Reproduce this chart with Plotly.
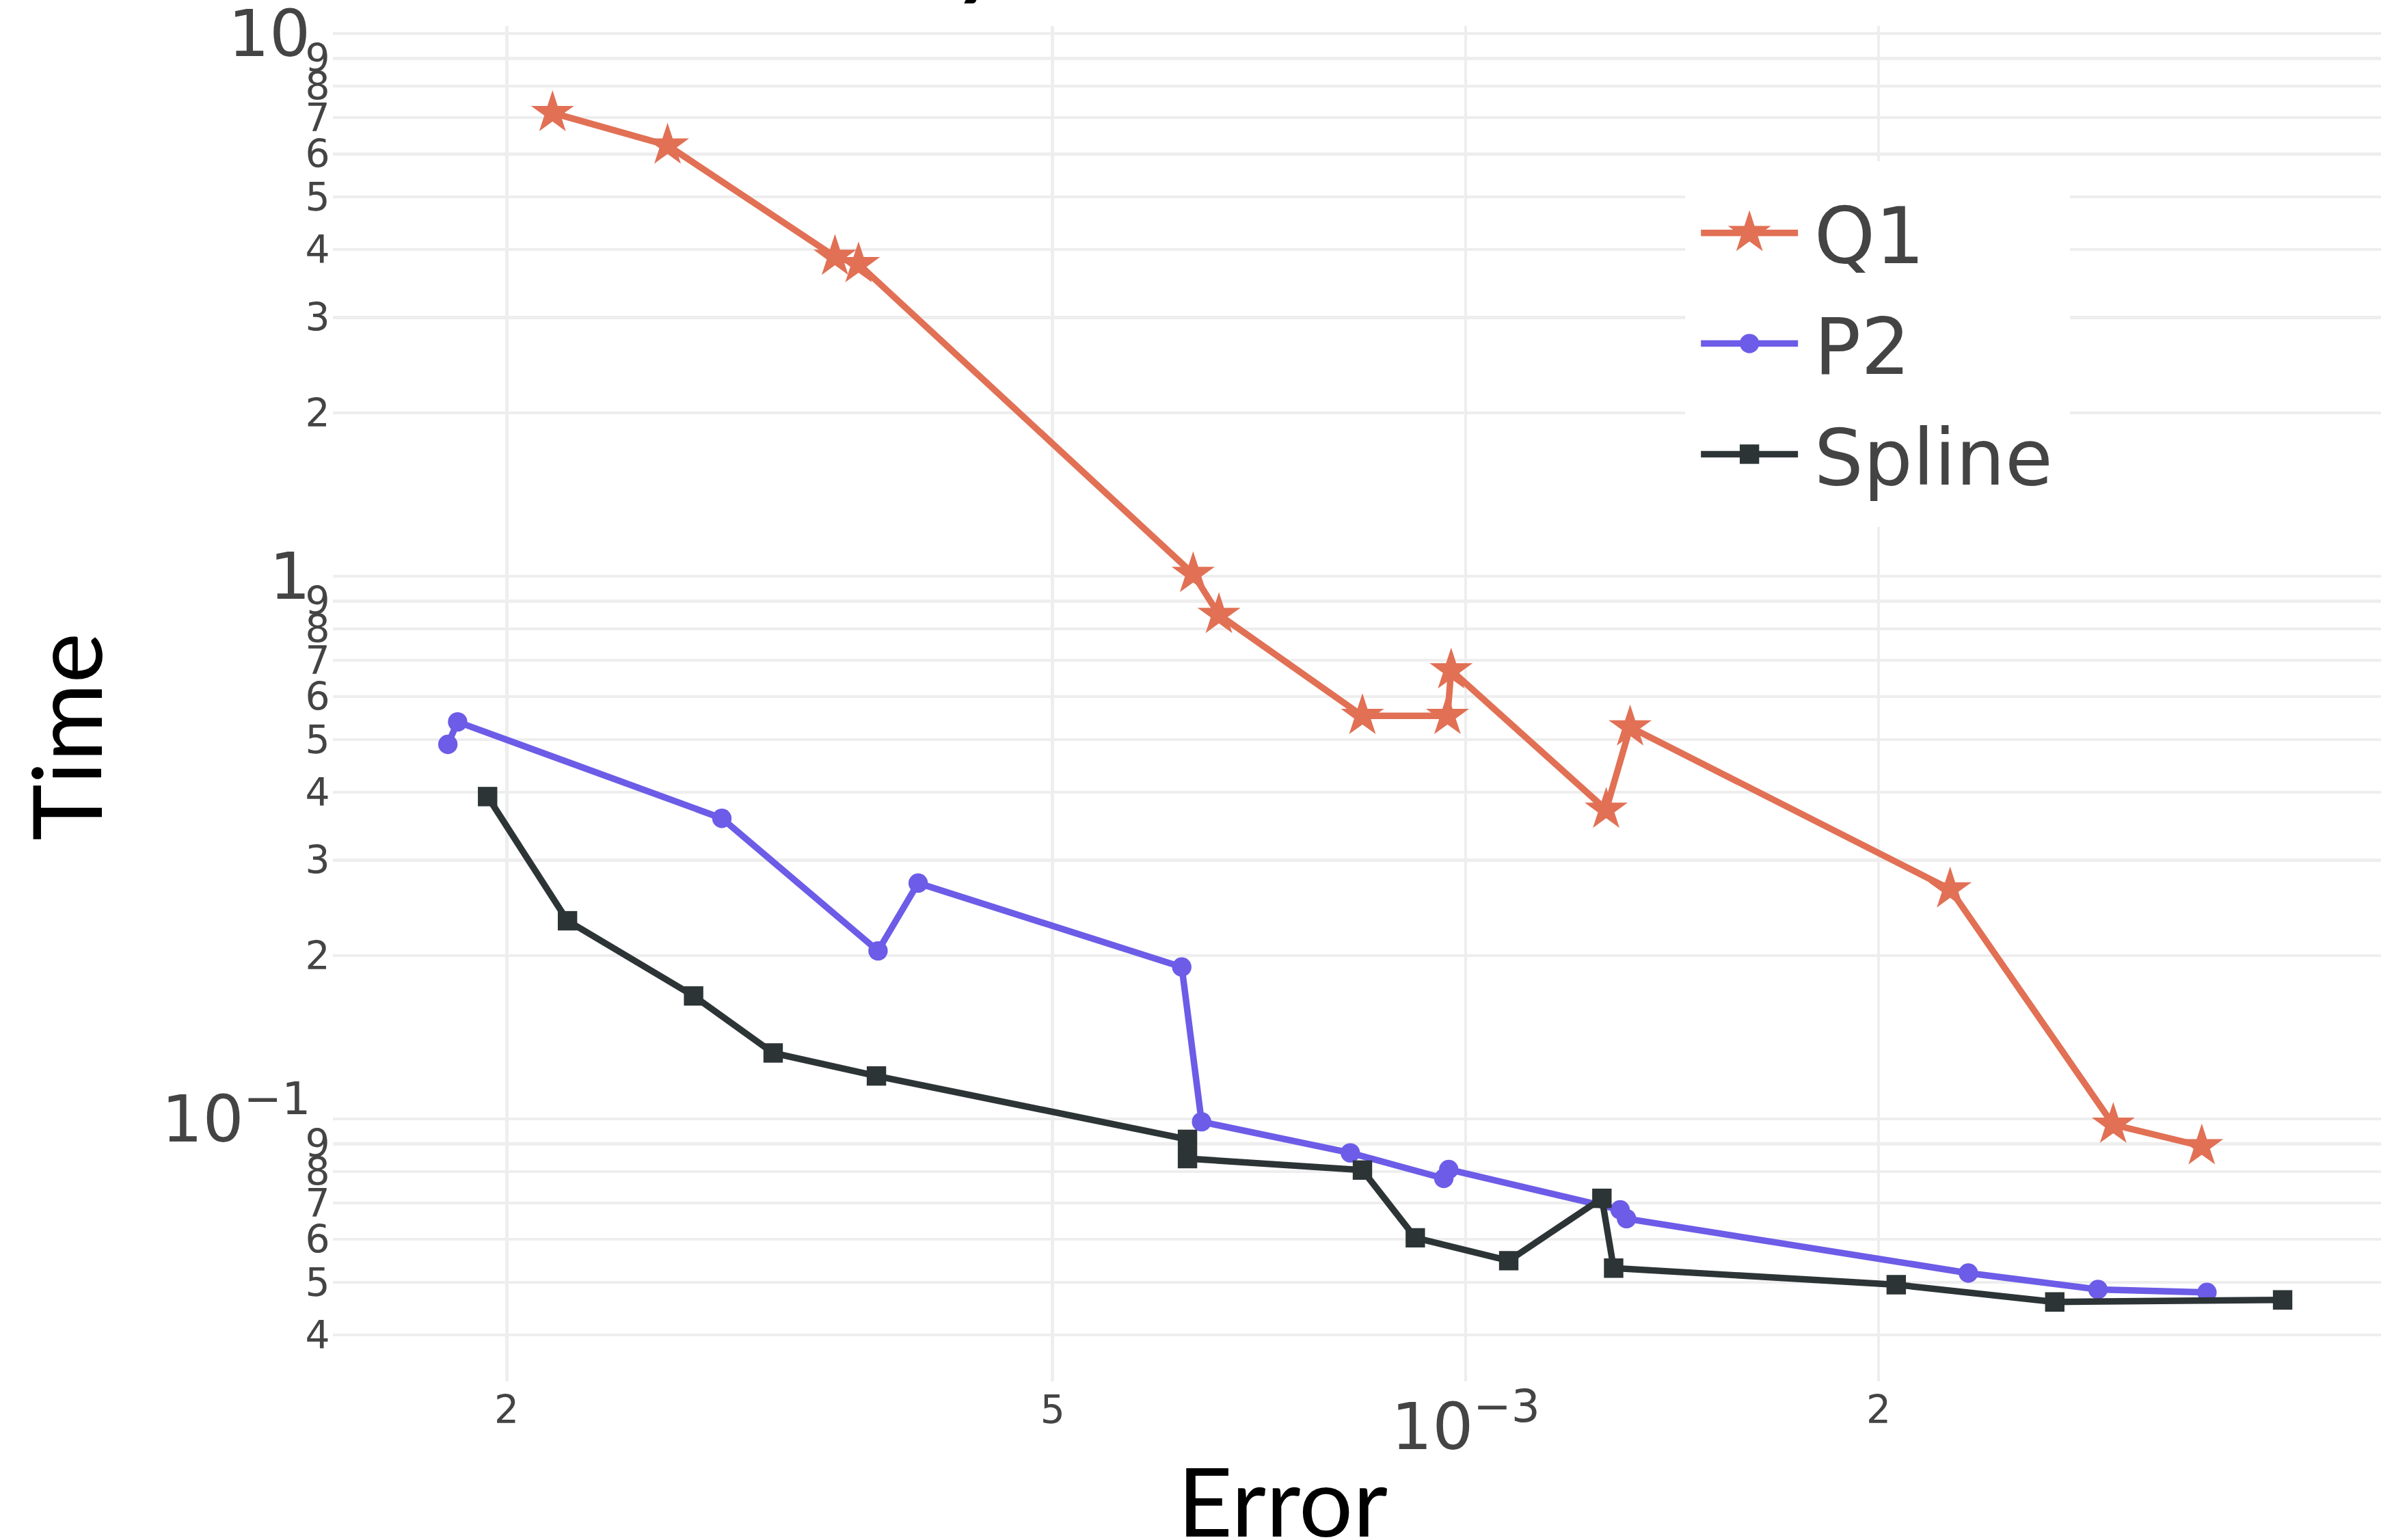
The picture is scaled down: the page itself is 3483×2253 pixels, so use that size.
import plotly.graph_objects as go

# ---------------- data ----------------
q1_error = [2.16e-4, 2.62e-4, 3.47e-4, 3.61e-4, 6.33e-4, 6.61e-4, 8.41e-4,
            9.70e-4, 9.76e-4, 1.266e-3, 1.318e-3, 2.255e-3, 2.965e-3, 3.44e-3]
q1_time = [7.14, 6.22, 3.88, 3.76, 1.01, 0.849, 0.553,
           0.553, 0.671, 0.3715, 0.527, 0.265, 0.0976, 0.0891]

p2_error = [1.812e-4, 1.842e-4, 2.87e-4, 3.73e-4, 3.99e-4, 6.21e-4, 6.42e-4,
            8.24e-4, 9.64e-4, 9.72e-4, 1.296e-3, 1.31e-3, 2.325e-3, 2.89e-3, 3.47e-3]
p2_time = [0.490, 0.539, 0.358, 0.204, 0.272, 0.1905, 0.0988,
           0.0866, 0.0777, 0.0807, 0.068, 0.0655, 0.0520, 0.0485, 0.0479]

spline_error = [1.937e-4, 2.215e-4, 2.737e-4, 3.128e-4, 3.72e-4, 6.27e-4, 6.27e-4,
                8.41e-4, 9.19e-4, 1.075e-3, 1.257e-3, 1.282e-3, 2.06e-3, 2.688e-3, 3.94e-3]
spline_time = [0.3926, 0.2318, 0.1685, 0.1323, 0.120, 0.0917, 0.0845,
               0.0805, 0.0604, 0.0548, 0.0714, 0.0531, 0.0495, 0.0460, 0.0464]

series_names = ["Q1", "P2", "Spline"]
series_colors = ["#E17055", "#6C5CE7", "#2D3436"]
series_symbols = ["star", "circle", "square"]

# y-axis ticks (log axis): minor digit ticks and decade ticks
y_minor_vals = [0.04, 0.05, 0.06, 0.07, 0.08, 0.09,
                0.2, 0.3, 0.4, 0.5, 0.6, 0.7, 0.8, 0.9,
                2, 3, 4, 5, 6, 7, 8, 9]
y_minor_text = ["4", "5", "6", "7", "8", "9",
                "2", "3", "4", "5", "6", "7", "8", "9",
                "2", "3", "4", "5", "6", "7", "8", "9"]
y_major_vals = [0.1, 1, 10]
y_major_text = ["10<sup>\u22121</sup>", "1", "10"]

title_text = "Efficiency"
x_title = "Error"
y_title = "Time"

# ---------------- figure ----------------
W, H = 736, 476
SCALE = 3483 / W

TICK_FONT = "DejaVu Sans, Verdana, sans-serif"
TITLE_FONT = "Lato, sans-serif"
GRID = "#eeeeee"
Y_RANGE = [-1.4833, 1.01403]

fig = go.Figure()
sizes = [10, 6, 6]
for name, xs, ys, col, sym, sz in zip(
        series_names,
        [q1_error, p2_error, spline_error],
        [q1_time, p2_time, spline_time],
        series_colors, series_symbols, sizes):
    fig.add_trace(go.Scatter(
        x=xs, y=ys, name=name, mode="lines+markers",
        line=dict(color=col, width=2),
        marker=dict(symbol=sym, size=sz, color=col),
    ))

# empty helper trace so that the decade-label axis (y2) is drawn
fig.add_trace(go.Scatter(x=[], y=[], yaxis="y2", showlegend=False,
                         hoverinfo="skip", mode="lines"))

fig.update_layout(
    template="none",
    width=W, height=H,
    margin=dict(l=103, r=0, t=8, b=49, pad=0),
    paper_bgcolor="white", plot_bgcolor="white",
    font=dict(family=TICK_FONT, size=16, color="#444"),
    title=dict(text=title_text, font=dict(family=TITLE_FONT, size=38, color="black"),
               xref="container", yref="container", x=0.425, xanchor="right",
               y=1, yanchor="bottom", pad=dict(b=5.6)),
    showlegend=True,
    legend=dict(x=0.66, y=0.9, xanchor="left", yanchor="top",
                bgcolor="white", borderwidth=0,
                font=dict(family=TICK_FONT, size=24, color="#444")),
    xaxis=dict(type="log", range=[-3.8254, -2.3328], dtick="D2",
               exponentformat="power", showgrid=True, gridcolor=GRID,
               gridwidth=1, zeroline=False, showline=False, ticks="",
               ticklabeloverflow="allow",
               tickfont=dict(family=TICK_FONT, size=16, color="#444")),
    yaxis=dict(type="log", range=Y_RANGE, tickmode="array",
               tickvals=y_minor_vals, ticktext=y_minor_text,
               showgrid=True, gridcolor=GRID, gridwidth=1,
               zeroline=False, showline=False, ticks="",
               ticklabeloverflow="allow",
               tickfont=dict(family=TICK_FONT, size=12, color="#444")),
    yaxis2=dict(type="log", range=Y_RANGE, overlaying="y", side="left",
                anchor="x", tickmode="array",
                tickvals=y_major_vals, ticktext=y_major_text,
                showgrid=True, gridcolor=GRID, gridwidth=1,
                zeroline=False, showline=False, ticks="",
                ticklabelstandoff=6, ticklabeloverflow="allow",
                tickfont=dict(family=TICK_FONT, size=20, color="#444")),
    annotations=[
        dict(text=x_title, xref="paper", yref="paper", x=0.4643, y=-0.0883,
             xanchor="center", yanchor="middle", showarrow=False,
             font=dict(family=TITLE_FONT, size=29.5, color="black")),
        dict(text=y_title, xref="paper", yref="paper", x=-0.1316, y=0.4745,
             xanchor="center", yanchor="middle", showarrow=False, textangle=-90,
             font=dict(family=TITLE_FONT, size=29.5, color="black")),
    ],
)

post = ("var gd=document.getElementById('{plot_id}');"
        "document.documentElement.style.margin='0';document.body.style.margin='0';"
        "document.documentElement.style.overflow='hidden';document.body.style.overflow='hidden';"
        "gd.style.transformOrigin='0 0';"
        "gd.style.transform='scale(" + repr(SCALE) + ")';")

fig.write_html("out.html", post_script=post)
